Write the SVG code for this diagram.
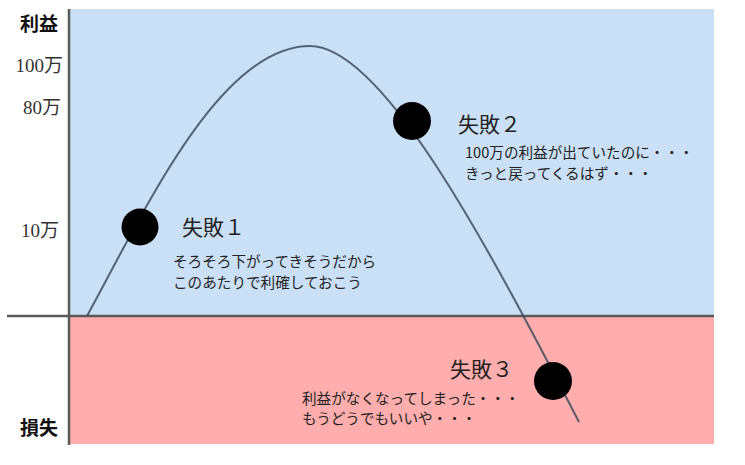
<svg xmlns="http://www.w3.org/2000/svg" width="745" height="465" viewBox="0 0 745 465">
<style>
.lbl{font-family:"Noto Sans CJK JP","Noto Sans",sans-serif;font-weight:bold;font-size:19px;fill:#111;text-anchor:end}
.num{font-family:"Liberation Serif","Noto Sans CJK JP",serif;font-size:19px;fill:#333;text-anchor:end}
.ttl{font-family:"Noto Sans CJK JP","Noto Sans",sans-serif;font-size:21px;fill:#222}
.txt{font-family:"Noto Sans CJK JP","Noto Sans",sans-serif;font-size:14.6px;fill:#222}
.dot{fill:#000}
.axis{stroke:#5a5a5a;stroke-width:2.5;fill:none}
.curve{stroke:#3e4c5e;stroke-width:2;fill:none;stroke-opacity:0.85}
</style>
<rect width="745" height="465" fill="#ffffff"/>
<g id="areas">
<rect x="70" y="9" width="644" height="307" fill="#cae0f6"/>
<rect x="70" y="317" width="644" height="127" fill="#ffadad"/>
</g>
<g id="axes">
<line class="axis" x1="69" y1="9" x2="69" y2="445"/>
<line class="axis" x1="7" y1="316" x2="714" y2="316"/>
</g>
<g id="axis-labels">
<text class="lbl" x="58" y="31">利益</text>
<text class="num" x="63" y="72">100万</text>
<text class="num" x="61" y="114">80万</text>
<text class="num" x="59" y="237">10万</text>
<text class="lbl" x="58" y="435">損失</text>
</g>
<g id="connectors">
<path class="curve" d="M87,316 C145,210 220,46 310,46 C380,46 480,230 579,422"/>
</g>
<g id="fail1">
<circle class="dot" cx="140" cy="227" r="18.5"/>
<text class="ttl" x="182" y="235">失敗１</text>
<text class="txt" x="173" y="267">そろそろ下がってきそうだから</text>
<text class="txt" x="173" y="288">このあたりで利確しておこう</text>
</g>
<g id="fail2">
<circle class="dot" cx="412" cy="121" r="19"/>
<text class="ttl" x="458" y="132">失敗２</text>
<text class="txt" x="465" y="158">100万の利益が出ていたのに・・・</text>
<text class="txt" x="465" y="179">きっと戻ってくるはず・・・</text>
</g>
<g id="fail3">
<circle class="dot" cx="553" cy="381" r="19"/>
<text class="ttl" x="450" y="377">失敗３</text>
<text class="txt" x="302" y="404">利益がなくなってしまった・・・</text>
<text class="txt" x="302" y="424">もうどうでもいいや・・・</text>
</g>
</svg>
